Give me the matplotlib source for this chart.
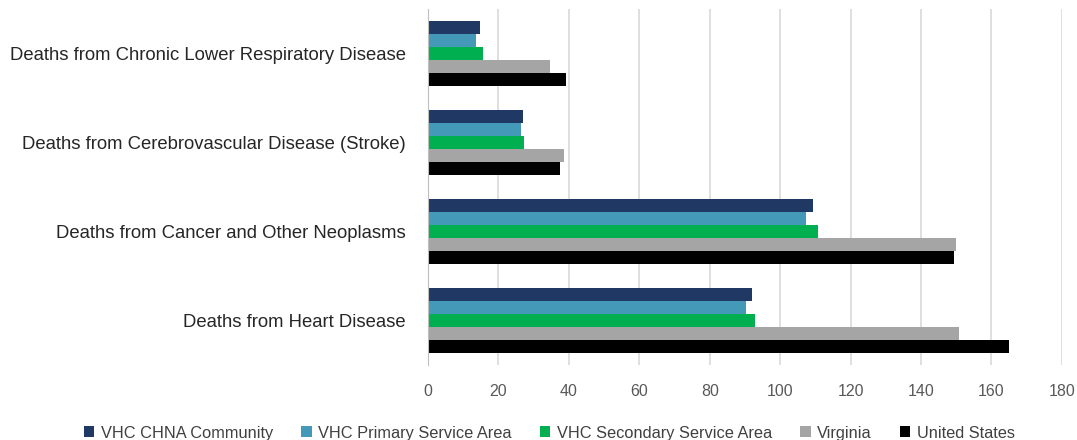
import numpy as np
import matplotlib.pyplot as plt

plt.rcParams['font.family'] = ['Liberation Sans', 'DejaVu Sans']

categories = ["Deaths from Heart Disease",
              "Deaths from Cancer and Other Neoplasms",
              "Deaths from Cerebrovascular Disease (Stroke)",
              "Deaths from Chronic Lower Respiratory Disease"]

series_names = ["VHC CHNA Community", "VHC Primary Service Area",
                "VHC Secondary Service Area", "Virginia", "United States"]
chna = [92.0, 109.2, 27.0, 14.8]
primary = [90.3, 107.2, 26.4, 13.7]
secondary = [92.8, 110.6, 27.3, 15.7]
virginia = [150.9, 150.0, 38.6, 34.6]
united_states = [164.9, 149.4, 37.4, 39.1]
colors = ["#1F3864", "#4599B8", "#00B050", "#A5A5A5", "#000000"]

values = [chna, primary, secondary, virginia, united_states]

fig = plt.figure(figsize=(10.77, 4.4), dpi=100)
ax = fig.add_axes([0.3974, 0.1705, 0.5886, 0.809])

y = np.arange(len(categories))
h = 0.146
for i, (name, vals, c) in enumerate(zip(series_names, values, colors)):
    offset = (2 - i) * h
    ax.barh(y + offset, vals, height=h, color=c, label=name)

ax.set_xlim(0, 180)
ax.set_ylim(-0.5, len(categories) - 0.5)
ax.set_xticks(np.arange(0, 181, 20))
ax.set_yticks(y)
ax.set_yticklabels(categories, fontsize=13.3, color="#262626")
ax.tick_params(axis="y", length=0, pad=16)
ax.tick_params(axis="x", length=0, pad=14, labelsize=11.5, labelcolor="#595959")

ax.grid(axis="x", color="#D9D9D9", linewidth=1.2)
ax.set_axisbelow(True)
for s in ["top", "right", "bottom"]:
    ax.spines[s].set_visible(False)
ax.spines["left"].set_color("#BFBFBF")

fig.legend(loc="lower center", ncol=5, bbox_to_anchor=(0.51, -0.035),
           frameon=False, fontsize=11.8, labelcolor="#404040",
           handlelength=0.65, handleheight=0.65, handletextpad=0.4,
           columnspacing=1.7)

fig.savefig("out.png", dpi=100)
